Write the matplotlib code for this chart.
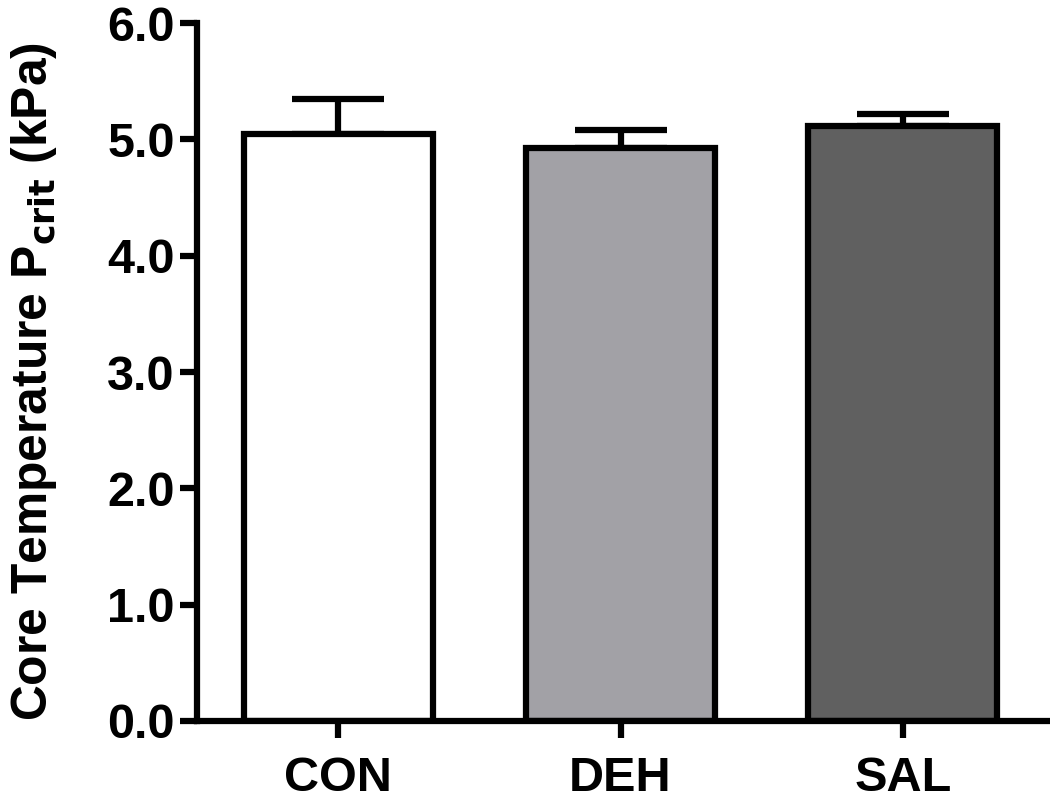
import matplotlib
matplotlib.use("Agg")
import matplotlib.pyplot as plt

categories = ["CON", "DEH", "SAL"]
means = [5.05, 4.93, 5.12]
sem = [0.30, 0.155, 0.10]
colors = ["#ffffff", "#a2a1a6", "#606060"]
yticks = [0.0, 1.0, 2.0, 3.0, 4.0, 5.0, 6.0]

plt.rcParams['font.family'] = ['Liberation Sans', 'DejaVu Sans']
plt.rcParams['font.weight'] = 'bold'

fig = plt.figure(figsize=(10.5, 8), dpi=100)
ax = fig.add_axes([0.1876, 0.099, 0.8094, 0.872])

lw = 4.5
x = list(range(len(categories)))
ax.bar(x, means, width=0.67, color=colors, edgecolor="black", linewidth=lw, zorder=2)
ax.errorbar(x, means, yerr=[[0] * len(sem), sem], fmt="none", ecolor="black",
            elinewidth=lw, capsize=33, capthick=lw, zorder=1)

ax.set_xlim(-0.5, 2.51)
ax.set_ylim(0, 6.0)
ax.set_yticks(yticks)
ax.set_yticklabels([f"{t:.1f}" for t in yticks])
ax.set_xticks(x)
ax.set_xticklabels(categories)

for s in ["top", "right"]:
    ax.spines[s].set_visible(False)
for s in ["left", "bottom"]:
    ax.spines[s].set_linewidth(lw)
ax.tick_params(axis="both", length=12, width=lw, labelsize=35, pad=4)
ax.tick_params(axis="x", pad=13)
for lab in ax.get_xticklabels() + ax.get_yticklabels():
    lab.set_fontweight("bold")

ax.set_ylabel(r"Core Temperature P$_{\mathbf{crit}}$ (kPa)", fontsize=35.8,
              fontweight="bold")
ax.yaxis.set_label_coords(-0.162, 0.486)

fig.savefig("out.png", dpi=100)
